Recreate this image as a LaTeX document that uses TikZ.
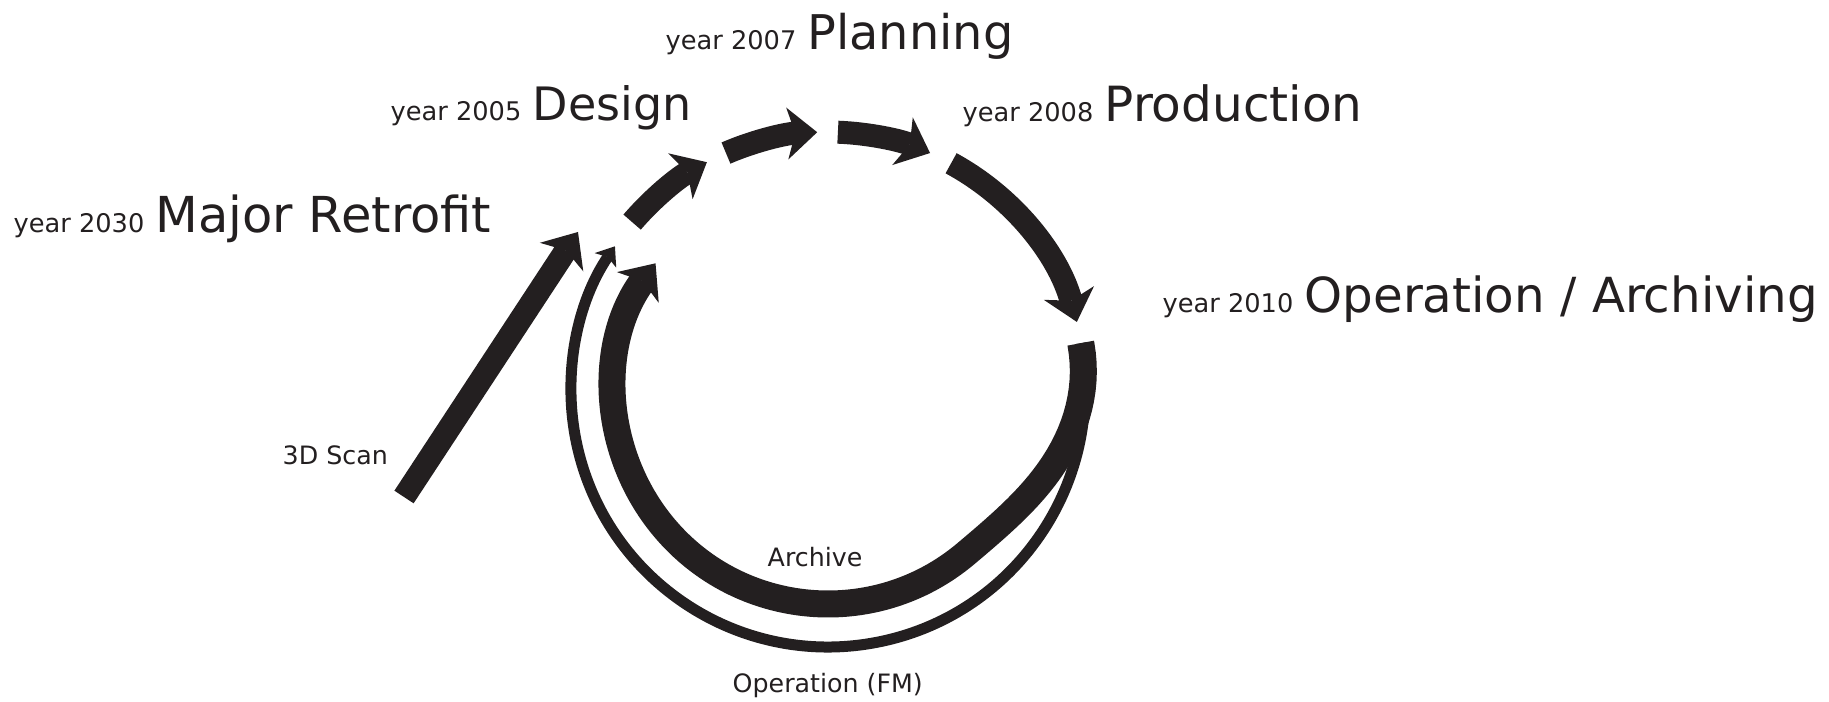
\documentclass[tikz,border=0pt]{standalone}
\usepackage{fontspec}
\setmainfont{DejaVu Sans}
\usetikzlibrary{arrows.meta}

\definecolor{ink}{HTML}{231F20}
\newcommand\yr[3][13.6]{{\fontsize{7.3}{9}\selectfont year #2} {\fontsize{#1}{16}\selectfont #3}}

\begin{document}
\begin{tikzpicture}[x=0.1mm,y=0.1mm,
        stage/.style={anchor=base west,inner sep=0pt,text=ink},
        label/.style={anchor=base west,inner sep=0pt,text=ink,font=\fontsize{7.2}{9}\selectfont},
        flow/.style={draw=ink,line width=2.3mm,-{Stealth[length=3mm,width=5.2mm,inset=0.8mm,line width=0pt]}},
        thin/.style={draw=ink,line width=1.1mm,-{Stealth[length=1.7mm,width=2.6mm,inset=0.4mm,line width=0pt]}},
        declare function={rr(\t)=235.5+21.5*cos((10-\t)*3);}]
        \useasboundingbox (0,0) rectangle (1829,701);

        % stages
        \node[stage] (retro) at (13,468) {\yr[14.1]{2030}{Major Retrofit}};
        \node[stage] (design) at (390,580) {\yr[13.1]{2005}{Design}};
        \node[stage] (plan) at (665,651) {\yr{2007}{Planning}};
        \node[stage] (prod) at (962,579) {\yr[13.8]{2008}{Production}};
        \node[stage] (oper) at (1162,388) {\yr[13.75]{2010}{Operation / Archiving}};

        \node[label] (scan) at (282,236) {3D Scan};
        \node[label] (arch) at (767,134) {Archive};
        \node[label] (fm) at (732,9) {Operation (FM)};

        % cycle
        \coordinate (c) at (828,311);
        \path (c) ++(139.4:258) coordinate (d0);
        \path (c) ++(113.3:258) coordinate (p0);
        \path (c) ++(87.8:258) coordinate (r0);
        \path (c) ++(61.5:258) coordinate (o0);
        \path (c) ++(10.5:257) coordinate (a0);

        \draw[flow] (d0) arc (139.4:118:258);
        \draw[flow] (p0) arc (113.3:92.4:258);
        \draw[flow] (r0) arc (87.8:66.7:258);
        \draw[flow] (o0) arc (61.5:15.3:258);

        \draw[thin] (a0) arc (10.5:-214:257);
        \draw[flow,line width=2.7mm] (a0) arc (10.5:10:257)
            -- plot[domain=10:-50,samples=31,variable=\t] ({828+rr(\t)*cos(\t)},{311+rr(\t)*sin(\t)})
            arc (-50:-216.3:214);

        % scan
        \coordinate (s0) at (404,204);
        \coordinate (s1) at (578,469);
        \draw[flow] (s0) -- (s1);
\end{tikzpicture}
\end{document}
